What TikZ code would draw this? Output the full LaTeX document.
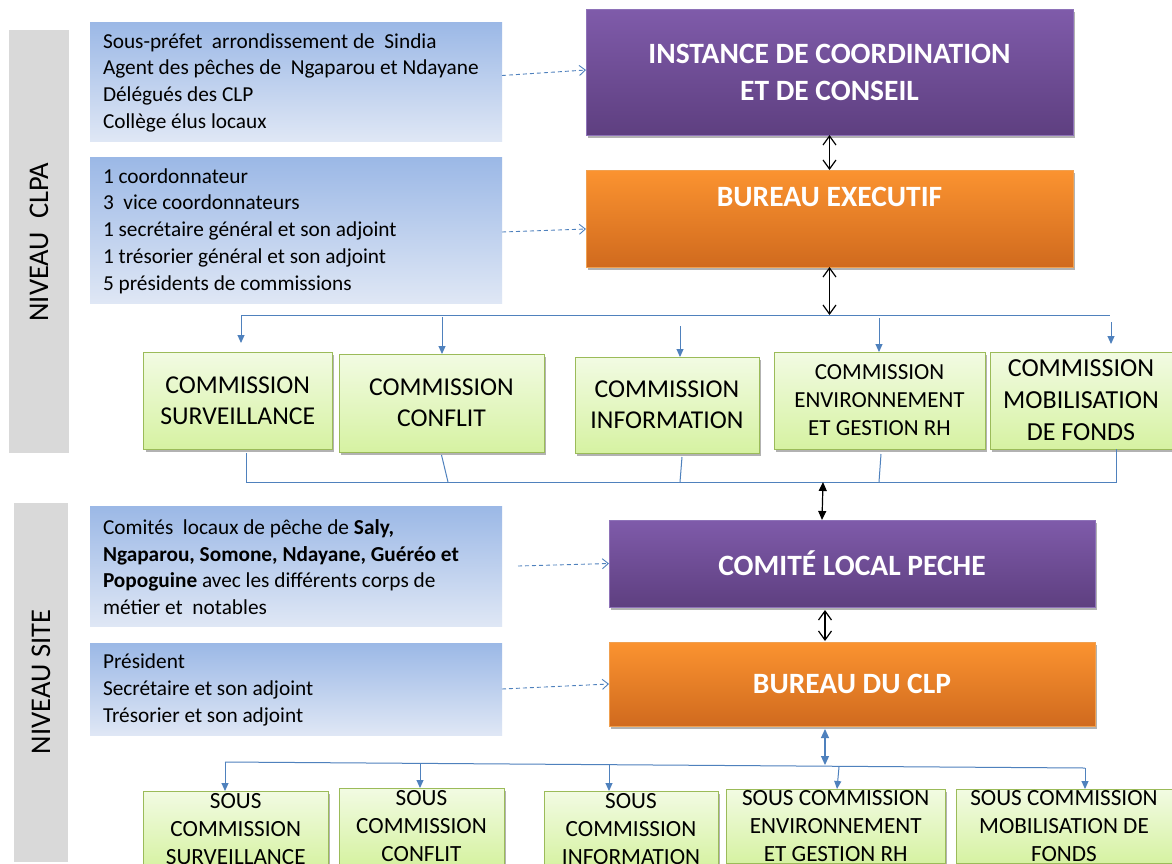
\documentclass[tikz,border=0pt]{standalone}
\usepackage{fontspec}
\setmainfont{Carlito}
\usetikzlibrary{arrows.meta,shadows,calc}
\definecolor{barGray}{HTML}{D9D9D9}
\definecolor{bTop}{HTML}{9BB8E6}
\definecolor{bBot}{HTML}{DFE7F5}
\definecolor{pTop}{HTML}{7F5BAA}
\definecolor{pBot}{HTML}{5E3F80}
\definecolor{pEdge}{HTML}{8E72B8}
\definecolor{oTop}{HTML}{FB9330}
\definecolor{oBot}{HTML}{D06A1E}
\definecolor{oEdge}{HTML}{F0A050}
\definecolor{gTop}{HTML}{F2FBE3}
\definecolor{gBot}{HTML}{D6F2A2}
\definecolor{gEdge}{HTML}{9BBB59}
\definecolor{lineBlue}{HTML}{4F81BD}
\begin{document}
\begin{tikzpicture}[x=1pt,y=-1pt,
  every node/.style={inner sep=0pt,outer sep=0pt},
  shadowed/.style={drop shadow={shadow xshift=2pt,shadow yshift=-2.5pt,opacity=0.3,fill=black}},
  bluebox/.style={rectangle,anchor=north west,top color=bTop,bottom color=bBot,draw=none,minimum width=412pt},
  bluetext/.style={anchor=west,align=left,font=\fontsize{21.3}{26.7}\selectfont},
  purplebox/.style={rectangle,anchor=north west,top color=pTop,bottom color=pBot,draw=pEdge,line width=0.8pt,
    align=center,text=white,font=\fontsize{29.5}{37}\selectfont\bfseries,shadowed},
  orangebox/.style={rectangle,anchor=north west,top color=oTop,bottom color=oBot,draw=oEdge,line width=0.8pt,
    align=center,text=white,font=\fontsize{29.5}{37}\selectfont\bfseries,shadowed},
  titletext/.style={text=white,font=\fontsize{29.5}{37}\selectfont\bfseries},
  greenbox/.style={rectangle,anchor=north west,top color=gTop,bottom color=gBot,draw=gEdge,line width=1pt,
    align=center,font=\fontsize{25.7}{31}\selectfont,shadowed},
  subbox/.style={greenbox,font=\fontsize{23.2}{28}\selectfont},
  sidelabel/.style={rotate=90,font=\fontsize{28.5}{30}\selectfont},
  bus/.style={draw=lineBlue,line width=1pt},
  busarrow/.style={bus,-{Triangle[length=8pt,width=7pt]}},
  dasharrow/.style={draw=lineBlue,line width=0.9pt,dash pattern=on 4pt off 3pt,-{Straight Barb[length=6pt,width=10pt]}},
  openarrow/.style={draw=black,line width=1.2pt,{Straight Barb[length=9pt,width=13pt]}-{Straight Barb[length=9pt,width=13pt]}},
  fillarrow/.style={draw=black,line width=1.2pt,{Triangle[length=9pt,width=8pt]}-{Triangle[length=9pt,width=8pt]}},
  bluedouble/.style={draw=lineBlue,line width=1.2pt,{Triangle[length=9pt,width=8pt]}-{Triangle[length=9pt,width=8pt]}}
]
\useasboundingbox (0,0) rectangle (1172,863);
\clip (0,0) rectangle (1172,863);
\fill[white] (0,0) rectangle (1172,863);

% side bars
\fill[barGray] (9,30) rectangle (69,453);
\fill[barGray] (14,503) rectangle (68,862);
\node[sidelabel] (lv1) at (39,242) {NIVEAU\ \ CLPA};
\node[sidelabel] (lv2) at (41,682) {NIVEAU SITE};

% blue description boxes
\node[bluebox,minimum height=119pt] (b1) at (90,22) {};
\node[bluetext] (b1t) at ([xshift=13pt,yshift=-1pt]b1.west) {Sous-préfet\ \ arrondissement de\ \ Sindia\\Agent des pêches de\ \ Ngaparou et Ndayane\\Délégués des CLP\\Collège élus locaux};
\node[bluebox,minimum height=146pt] (b2) at (90,157) {};
\node[bluetext] (b2t) at ([xshift=13pt,yshift=-1pt]b2.west) {1 coordonnateur\\3\ \ vice coordonnateurs\\1 secrétaire général et son adjoint\\1 trésorier général et son adjoint\\5 présidents de commissions};
\node[bluebox,minimum height=120pt] (b3) at (90,506) {};
\node[bluetext] (b3t) at ([xshift=13pt,yshift=-1pt]b3.west) {Comités\ \ locaux de pêche de \textbf{Saly,}\\\textbf{Ngaparou, Somone, Ndayane, Guéréo et}\\\textbf{Popoguine} avec les différents corps de\\métier et\ \ notables};
\node[bluebox,minimum height=92pt] (b4) at (90,643) {};
\node[bluetext] (b4t) at ([xshift=13pt,yshift=-1pt]b4.west) {Président\\Secrétaire et son adjoint\\Trésorier et son adjoint};

% main boxes
\node[purplebox,minimum width=487pt,minimum height=126pt] (p1) at (586,9) {INSTANCE DE COORDINATION\\ET DE CONSEIL};
\node[orangebox,minimum width=487pt,minimum height=97pt] (o1) at (586,170) {};
\node[titletext] (o1t) at ([yshift=-27pt]o1.north) {BUREAU EXECUTIF};
\node[purplebox,minimum width=486pt,minimum height=87pt] (p2) at (609,520) {COMITÉ LOCAL PECHE};
\node[orangebox,minimum width=486pt,minimum height=84pt] (o2) at (609,642) {BUREAU DU CLP};

% commissions
\node[greenbox,minimum width=188.5pt,minimum height=97pt] (c1) at (143.5,352) {COMMISSION\\SURVEILLANCE};
\node[greenbox,minimum width=205pt,minimum height=98pt] (c2) at (339,354) {COMMISSION\\CONFLIT};
\node[greenbox,minimum width=184pt,minimum height=96pt] (c3) at (575,357) {COMMISSION\\INFORMATION};
\node[greenbox,minimum width=211pt,minimum height=97pt,font=\fontsize{23}{28}\selectfont] (c4) at (774,352) {COMMISSION\\ENVIRONNEMENT\\ET GESTION RH};
\node[greenbox,minimum width=182pt,minimum height=97pt,font=\fontsize{26}{32}\selectfont] (c5) at (990,352) {COMMISSION\\MOBILISATION\\DE FONDS};

% sous commissions
\node[subbox,minimum width=184.5pt,minimum height=77pt] (s1) at (143.5,791) {SOUS\\COMMISSION\\SURVEILLANCE};
\node[subbox,minimum width=165pt,minimum height=76pt] (s2) at (339,788) {SOUS\\COMMISSION\\CONFLIT};
\node[subbox,minimum width=174pt,minimum height=76pt] (s3) at (544,791) {SOUS\\COMMISSION\\INFORMATION};
\node[subbox,minimum width=218.5pt,minimum height=74pt] (s4) at (726.5,789) {SOUS COMMISSION\\ENVIRONNEMENT\\ET GESTION RH};
\node[subbox,minimum width=216pt,minimum height=74pt] (s5) at (956,789) {SOUS COMMISSION\\MOBILISATION DE\\FONDS};

% dashed arrows
\draw[dasharrow] ([yshift=6pt]b1.east) -- ([yshift=2pt]p1.west);
\draw[dasharrow] ([yshift=-2pt]b2.east) -- ([yshift=-10.5pt]o1.west);
\draw[dasharrow] ([xshift=16pt]b3.east) -- (p2.west);
\draw[dasharrow] (b4.east) -- (o2.west);

% upper hierarchy
\coordinate (tbL) at (241,315);
\coordinate (tbR) at (1110,315);
\draw[openarrow] (p1.south) -- (o1.north);
\draw[bus] (tbL) -- (tbR);
\draw[openarrow] (o1.south) -- (o1.south |- tbL);
\coordinate (d2) at (442,317);
\coordinate (d3) at (680,326);
\coordinate (d4) at (879,318);
\coordinate (d5) at (1111,322);
\draw[busarrow,shorten >=9pt] (tbL) -- (tbL |- c1.north);
\draw[busarrow] (d2) -- (d2 |- c2.north);
\draw[busarrow] (d3) -- (d3 |- c3.north);
\draw[busarrow] (d4) -- (d4 |- c4.north);
\draw[busarrow,shorten >=8pt] (d5) -- (d5 |- c5.north);

% lower collector
\coordinate (bbL) at (246,482);
\coordinate (bbR) at (1116,482);
\coordinate (u2) at (448,482);
\coordinate (u3) at (680,482);
\coordinate (u4) at (879,482);
\draw[bus] ([yshift=-4pt]c1.south -| bbL) -- (bbL) -- (bbR) -- (bbR |- c5.south);
\draw[bus] ([yshift=-3pt]c2.south) -- (u2);
\draw[bus] ([xshift=15pt,yshift=-4pt]c3.south) -- (u3);
\draw[bus] ([xshift=1.5pt,yshift=-5pt]c4.south) -- (u4);

% site level
\coordinate (u0) at (823,482);
\coordinate (ax) at (825,0);
\draw[fillarrow] (u0) -- ([xshift=-1pt]u0 |- p2.north);
\draw[openarrow] ([yshift=-3pt]p2.south -| ax) -- ([yshift=1pt]o2.north -| ax);
\coordinate (v0) at (825,765);
\draw[bluedouble] ([yshift=-3pt]o2.south -| ax) -- (v0);

% bottom bus
\coordinate (w1) at (225,762);
\coordinate (w2) at (420,763.5);
\coordinate (w3) at (609,765);
\coordinate (w4) at (839,767);
\coordinate (w5) at (1085,768);
\draw[bus] (w1) -- (w5);
\draw[busarrow] (w1) -- (w1 |- s1.north);
\draw[busarrow] (w2) -- (w2 |- s2.north);
\draw[busarrow] (w3) -- (w3 |- s3.north);
\draw[busarrow] (w4) -- ([xshift=-2pt]w4 |- s4.north);
\draw[busarrow] (w5) -- (w5 |- s5.north);
\end{tikzpicture}
\end{document}
